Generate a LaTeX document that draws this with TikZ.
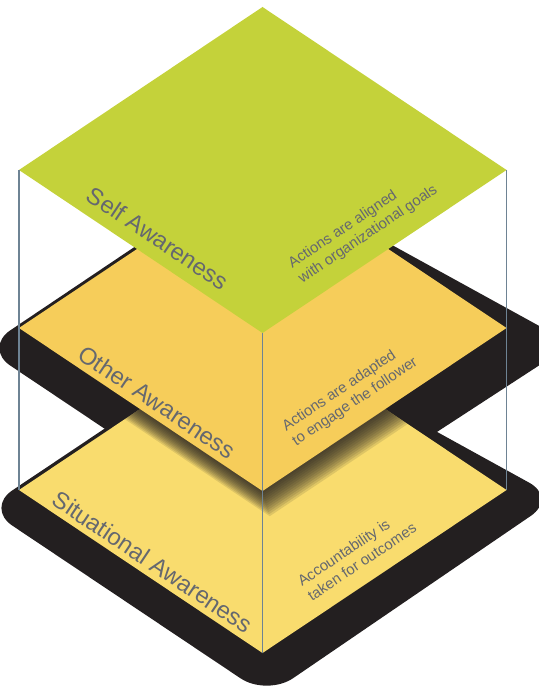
\documentclass[tikz,border=0pt]{standalone}
\usepackage{fontspec}
\setmainfont{Liberation Sans}
\usetikzlibrary{calc}

\definecolor{selfgreen}{HTML}{C4D23A}
\definecolor{otheryellow}{HTML}{F6CD5A}
\definecolor{situyellow}{HTML}{F9DC6E}
\definecolor{shadowblack}{HTML}{231F20}
\definecolor{edgegray}{HTML}{6E8394}
\definecolor{labelgray}{HTML}{65686F}

\begin{document}
\begin{tikzpicture}[x=0.02cm, y=-0.02cm,
    slab shadow/.style={fill=shadowblack, rounded corners=18pt},
    edge line/.style={edgegray, line width=0.6pt},
    big label/.style={text=labelgray, font=\fontsize{13.5}{16}\selectfont, rotate=-33.8},
    small label/.style={text=labelgray, font=\fontsize{8.5}{10.2}\selectfont, align=left, rotate=33.8, anchor=west}]
  \useasboundingbox (0,0) rectangle (538,689);
  % corners of the three layers
  \foreach \n/\cy in {self/170, other/328, sit/490} {
    \coordinate (\n-l) at (19,\cy);
    \coordinate (\n-r) at (506.5,\cy);
    \coordinate (\n-t) at (262.5,{\cy-163});
    \coordinate (\n-b) at (262.5,{\cy+163});
  }
  % shadows
  \fill[slab shadow] (252,168) -- (572,344) -- (271,540) -- (-16,348) -- cycle;
  \fill[slab shadow] (252,330) -- (557,498) -- (267,696) -- (-14,508) -- cycle;
  % bottom layer
  \fill[situyellow] (sit-l) -- (sit-t) -- (sit-r) -- (sit-b) -- cycle;
  % soft shadow of the middle layer
  \begin{scope}
    \clip (sit-l) -- (sit-t) -- (sit-r) -- (sit-b) -- cycle;
    \foreach \i in {1,...,12}
      \fill[shadowblack, opacity=0.12] ($(other-l)+(0.6*\i,2.1*\i)$) -- ($(other-t)+(0.6*\i,2.1*\i)$)
        -- ($(other-r)+(0.6*\i,2.1*\i)$) -- ($(other-b)+(0.6*\i,2.1*\i)$) -- cycle;
  \end{scope}
  % middle and top layers
  \fill[otheryellow] (other-l) -- (other-t) -- (other-r) -- (other-b) -- cycle;
  \fill[selfgreen] (self-l) -- (self-t) -- (self-r) -- (self-b) -- cycle;
  % vertical edges
  \draw[edge line] (self-l) -- (sit-l);
  \draw[edge line] (self-r) -- (sit-r);
  \draw[edge line] (self-b) -- (sit-b);
  % labels
  \node[big label] (selflbl) at (158,238) {Self Awareness};
  \node[big label] (otherlbl) at (157,402) {Other Awareness};
  \node[big label] (sitlbl) at (153,562) {Situational Awareness};
  \node[small label] (selftxt) at (290,276) {Actions are aligned\\with organizational goals};
  \node[small label] (othertxt) at (284,439) {Actions are adapted\\to engage the follower};
  \node[small label] (sittxt) at (299,593) {Accountability is\\taken for outcomes};
\end{tikzpicture}
\end{document}
